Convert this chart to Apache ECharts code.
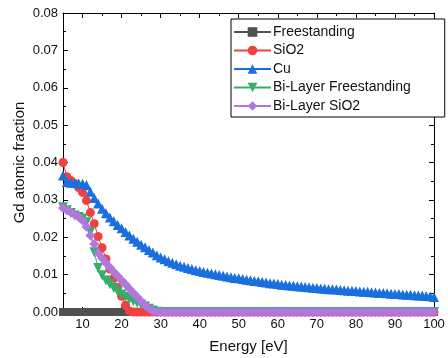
<!DOCTYPE html>
<html>
<head>
<meta charset="utf-8">
<script src="https://cdn.jsdelivr.net/npm/echarts@6/dist/echarts.min.js"></script>
<style>
  html, body { margin: 0; padding: 0; background: #fff; }
  #chart { width: 448px; height: 358px; }
</style>
</head>
<body>
<div id="chart"></div>
<script>
// Photon energy grid, 1 eV steps from 5 to 100 eV (96 points)
const energy = [
   5,  6,  7,  8,  9, 10, 11, 12, 13, 14,
  15, 16, 17, 18, 19, 20, 21, 22, 23, 24,
  25, 26, 27, 28, 29, 30, 31, 32, 33, 34,
  35, 36, 37, 38, 39, 40, 41, 42, 43, 44,
  45, 46, 47, 48, 49, 50, 51, 52, 53, 54,
  55, 56, 57, 58, 59, 60, 61, 62, 63, 64,
  65, 66, 67, 68, 69, 70, 71, 72, 73, 74,
  75, 76, 77, 78, 79, 80, 81, 82, 83, 84,
  85, 86, 87, 88, 89, 90, 91, 92, 93, 94,
  95, 96, 97, 98, 99, 100
];

const seriesNames = ['Freestanding', 'SiO2', 'Cu', 'Bi-Layer Freestanding', 'Bi-Layer SiO2'];

// Gd atomic fraction, one value per energy step (rows of 10 eV)
const freestanding = [
  0, 0, 0, 0, 0, 0, 0, 0, 0, 0,
  0, 0, 0, 0, 0, 0, 0, 0, 0, 0,
  0, 0, 0, 0, 0, 0, 0, 0, 0, 0,
  0, 0, 0, 0, 0, 0, 0, 0, 0, 0,
  0, 0, 0, 0, 0, 0, 0, 0, 0, 0,
  0, 0, 0, 0, 0, 0, 0, 0, 0, 0,
  0, 0, 0, 0, 0, 0, 0, 0, 0, 0,
  0, 0, 0, 0, 0, 0, 0, 0, 0, 0,
  0, 0, 0, 0, 0, 0, 0, 0, 0, 0,
  0, 0, 0, 0, 0, 0
];
const sio2 = [
  0.0400, 0.0362, 0.0352, 0.0344, 0.0333, 0.0320, 0.0298, 0.0266, 0.0236, 0.0202,
  0.0172, 0.0142, 0.0115, 0.0090, 0.0066, 0.0042, 0.0018, 0.0003, 0, 0,
  0, 0, 0, 0, 0, 0, 0, 0, 0, 0,
  0, 0, 0, 0, 0, 0, 0, 0, 0, 0,
  0, 0, 0, 0, 0, 0, 0, 0, 0, 0,
  0, 0, 0, 0, 0, 0, 0, 0, 0, 0,
  0, 0, 0, 0, 0, 0, 0, 0, 0, 0,
  0, 0, 0, 0, 0, 0, 0, 0, 0, 0,
  0, 0, 0, 0, 0, 0, 0, 0, 0, 0,
  0, 0, 0, 0, 0, 0
];
const cu = [
  0.0365, 0.0348, 0.0346, 0.0345, 0.0344, 0.0343, 0.0340, 0.0322, 0.0305, 0.0290,
  0.0276, 0.0264, 0.0253, 0.0243, 0.0233, 0.0224, 0.0214, 0.0205, 0.0196, 0.0188,
  0.0180, 0.0173, 0.0166, 0.0159, 0.0152, 0.0146, 0.0141, 0.0136, 0.0132, 0.0128,
  0.0124, 0.0121, 0.0118, 0.0115, 0.0112, 0.0110, 0.0107, 0.0105, 0.0103, 0.0101,
  0.0099, 0.0097, 0.0095, 0.0093, 0.0091, 0.0090, 0.0088, 0.0086, 0.0085, 0.0083,
  0.0082, 0.0080, 0.0079, 0.0077, 0.0076, 0.0075, 0.0073, 0.0072, 0.0071, 0.0070,
  0.0069, 0.0068, 0.0067, 0.0066, 0.0065, 0.0064, 0.0063, 0.0062, 0.0061, 0.0061,
  0.0060, 0.0059, 0.0058, 0.0057, 0.0057, 0.0056, 0.0055, 0.0054, 0.0054, 0.0053,
  0.0052, 0.0051, 0.0051, 0.0050, 0.0049, 0.0048, 0.0048, 0.0047, 0.0046, 0.0046,
  0.0045, 0.0044, 0.0044, 0.0043, 0.0042, 0.0040
];
const biLayerFreestanding = [
  0.0280, 0.0272, 0.0265, 0.0258, 0.0254, 0.0250, 0.0240, 0.0215, 0.0160, 0.0118,
  0.0098, 0.0084, 0.0074, 0.0064, 0.0055, 0.0047, 0.0040, 0.0034, 0.0029, 0.0025,
  0.0020, 0.0015, 0.0009, 0.0004, 0.0001, 0, 0, 0, 0, 0,
  0, 0, 0, 0, 0, 0, 0, 0, 0, 0,
  0, 0, 0, 0, 0, 0, 0, 0, 0, 0,
  0, 0, 0, 0, 0, 0, 0, 0, 0, 0,
  0, 0, 0, 0, 0, 0, 0, 0, 0, 0,
  0, 0, 0, 0, 0, 0, 0, 0, 0, 0,
  0, 0, 0, 0, 0, 0, 0, 0, 0, 0,
  0, 0, 0, 0, 0, 0
];
const biLayerSio2 = [
  0.0278, 0.0272, 0.0266, 0.0260, 0.0254, 0.0245, 0.0228, 0.0205, 0.0182, 0.0158,
  0.0144, 0.0131, 0.0119, 0.0107, 0.0096, 0.0085, 0.0074, 0.0062, 0.0051, 0.0040,
  0.0029, 0.0019, 0.0010, 0.0003, 0, 0, 0, 0, 0, 0,
  0, 0, 0, 0, 0, 0, 0, 0, 0, 0,
  0, 0, 0, 0, 0, 0, 0, 0, 0, 0,
  0, 0, 0, 0, 0, 0, 0, 0, 0, 0,
  0, 0, 0, 0, 0, 0, 0, 0, 0, 0,
  0, 0, 0, 0, 0, 0, 0, 0, 0, 0,
  0, 0, 0, 0, 0, 0, 0, 0, 0, 0,
  0, 0, 0, 0, 0, 0
];

// Axis tick positions
const xMajorTicks = [10, 20, 30, 40, 50, 60, 70, 80, 90, 100];
const xMinorTicks = [15, 25, 35, 45, 55, 65, 75, 85, 95];

const colors = ['#515151', '#F14040', '#1A6FDF', '#37AD6B', '#B177DE'];
const symbols = ['rect', 'circle', 'triangle', 'triangle', 'diamond'];
const symbolSizes = [8, 9, 10, 10, 10];
const symbolRotations = [0, 0, 0, 180, 0];
const values = [freestanding, sio2, cu, biLayerFreestanding, biLayerSio2];

const textColor = '#111';
const font = 'Liberation Sans, Arial, sans-serif';

function xAxisDef(position, ticks, len, showLine, showLabel) {
  return {
    type: 'value', position: position, min: 5, max: 100,
    axisLine: { show: showLine, onZero: false, lineStyle: { color: '#000', width: 1 } },
    axisTick: { show: true, inside: true, length: len, customValues: ticks, lineStyle: { color: '#000', width: 1 } },
    axisLabel: showLabel
      ? { show: true, customValues: ticks, color: textColor, fontSize: 13, fontFamily: font, margin: 6 }
      : { show: false },
    splitLine: { show: false }
  };
}

function yAxisDef(position, showLabel) {
  return {
    type: 'value', position: position, min: 0, max: 0.08, interval: 0.01,
    axisLine: { show: true, onZero: false, lineStyle: { color: '#000', width: 1 } },
    axisTick: { show: true, inside: true, length: 5, lineStyle: { color: '#000', width: 1 } },
    minorTick: { show: true, splitNumber: 2, length: 3, lineStyle: { color: '#000', width: 1 } },
    axisLabel: showLabel
      ? { show: true, color: textColor, fontSize: 13, fontFamily: font, margin: 5,
          formatter: v => v.toFixed(2) }
      : { show: false },
    splitLine: { show: false },
    minorSplitLine: { show: false }
  };
}

const xAxes = [
  xAxisDef('bottom', xMajorTicks, 5, true, true),
  xAxisDef('bottom', xMinorTicks, 3, false, false),
  xAxisDef('top', xMajorTicks, 5, true, false),
  xAxisDef('top', xMinorTicks, 3, false, false)
];
xAxes[0].name = 'Energy [eV]';
xAxes[0].nameLocation = 'middle';
xAxes[0].nameGap = 27;
xAxes[0].nameMoveOverlap = false;
xAxes[0].nameTextStyle = { color: textColor, fontSize: 15, fontFamily: font };

const yAxes = [yAxisDef('left', true), yAxisDef('right', false)];
yAxes[0].name = 'Gd atomic fraction';
yAxes[0].nameLocation = 'middle';
yAxes[0].nameGap = 36;
yAxes[0].nameMoveOverlap = false;
yAxes[0].nameTextStyle = { color: textColor, fontSize: 15, fontFamily: font };

const series = seriesNames.map((name, i) => ({
  name: name,
  type: 'line',
  xAxisIndex: 0,
  yAxisIndex: 0,
  data: energy.map((e, k) => [e, values[i][k]]),
  symbol: symbols[i],
  symbolSize: symbolSizes[i],
  symbolRotate: symbolRotations[i],
  showAllSymbol: true,
  color: colors[i],
  lineStyle: { width: 1, color: colors[i] },
  itemStyle: { color: colors[i] },
  animation: false
}));

const chart = echarts.init(document.getElementById('chart'), null, { renderer: 'canvas' });
chart.setOption({
  backgroundColor: '#fff',
  animation: false,
  grid: { left: 63, right: 14, top: 13, bottom: 46, outerBoundsMode: 'none', containLabel: false },
  legend: {
    orient: 'vertical',
    left: 231, top: 19,
    padding: [6, 34, 4, 2],
    itemWidth: 37, itemHeight: 12, itemGap: 4.5,
    borderColor: '#000', borderWidth: 1,
    backgroundColor: '#fff',
    textStyle: { color: textColor, fontSize: 14, fontFamily: font, padding: [0, 0, 0, -3] },
    data: seriesNames
  },
  xAxis: xAxes,
  yAxis: yAxes,
  series: series
});
</script>
</body>
</html>
